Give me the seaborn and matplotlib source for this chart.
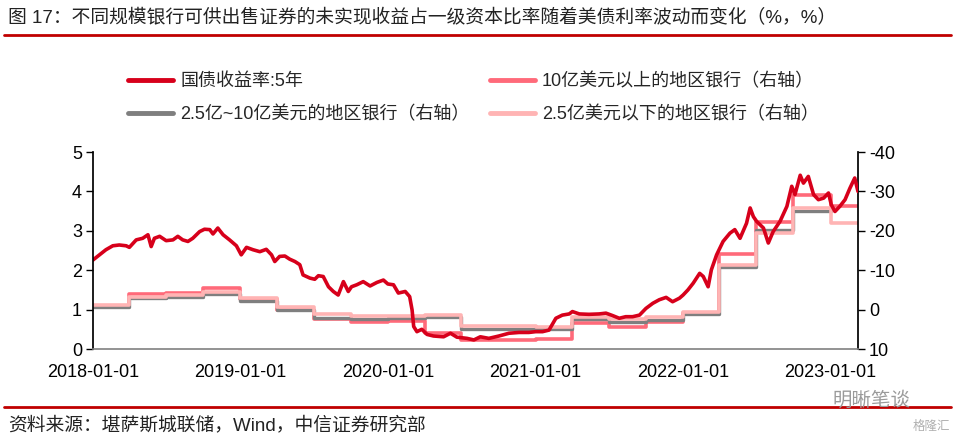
import pandas as pd
import numpy as np
import seaborn as sns
import matplotlib.pyplot as plt
import matplotlib.dates as mdates

sns.set_theme(style="white")
plt.rcParams['font.family'] = ['Liberation Sans', 'Noto Sans CJK SC']
plt.rcParams['axes.unicode_minus'] = False

# 国债收益率:5年 (左轴)
ust_dates = [
    "2018-01-01", "2018-01-17", "2018-02-02", "2018-02-19", "2018-03-07", "2018-03-24",
    "2018-04-01", "2018-04-18", "2018-05-04", "2018-05-17", "2018-05-25", "2018-06-02",
    "2018-06-15", "2018-07-01", "2018-07-18", "2018-07-30", "2018-08-11", "2018-08-24",
    "2018-09-05", "2018-09-22", "2018-10-04", "2018-10-17", "2018-10-25", "2018-11-06",
    "2018-11-19", "2018-12-05", "2018-12-22", "2019-01-03", "2019-01-16", "2019-02-01",
    "2019-02-18", "2019-03-06", "2019-03-19", "2019-03-27", "2019-04-08", "2019-04-21",
    "2019-05-03", "2019-05-16", "2019-05-28", "2019-06-05", "2019-06-22", "2019-07-04",
    "2019-07-13", "2019-07-25", "2019-08-07", "2019-08-19", "2019-08-31", "2019-09-13",
    "2019-09-25", "2019-10-03", "2019-10-16", "2019-11-01", "2019-11-18", "2019-12-05",
    "2019-12-21", "2020-01-01", "2020-01-15", "2020-01-27", "2020-02-13", "2020-02-24",
    "2020-03-01", "2020-03-05", "2020-03-13", "2020-03-25", "2020-04-07", "2020-04-23",
    "2020-05-18", "2020-06-04", "2020-06-20", "2020-07-15", "2020-08-01", "2020-08-17",
    "2020-09-07", "2020-10-02", "2020-10-27", "2020-11-21", "2020-12-15", "2021-01-01",
    "2021-01-18", "2021-02-03", "2021-02-20", "2021-03-08", "2021-03-25", "2021-04-02",
    "2021-04-19", "2021-05-13", "2021-06-07", "2021-06-24", "2021-07-10", "2021-07-27",
    "2021-08-12", "2021-08-29", "2021-09-15", "2021-10-01", "2021-10-18", "2021-11-03",
    "2021-11-20", "2021-12-06", "2021-12-23", "2022-01-01", "2022-01-13", "2022-01-26",
    "2022-02-11", "2022-02-20", "2022-03-04", "2022-03-12", "2022-03-25", "2022-04-10",
    "2022-04-27", "2022-05-09", "2022-05-22", "2022-06-07", "2022-06-16", "2022-06-24",
    "2022-07-02", "2022-07-19", "2022-07-31", "2022-08-12", "2022-08-29", "2022-09-15",
    "2022-09-27", "2022-10-05", "2022-10-18", "2022-10-26", "2022-11-07", "2022-11-20",
    "2022-12-02", "2022-12-15", "2022-12-27", "2023-01-03", "2023-01-12", "2023-01-24",
    "2023-02-06", "2023-02-18", "2023-03-02", "2023-03-10",
]
ust_vals = [
    2.26, 2.39, 2.52, 2.62, 2.64, 2.62,
    2.58, 2.77, 2.81, 2.90, 2.60, 2.81,
    2.86, 2.75, 2.77, 2.86, 2.77, 2.73,
    2.81, 2.98, 3.04, 3.03, 2.92, 3.07,
    2.90, 2.77, 2.62, 2.39, 2.58, 2.52,
    2.47, 2.53, 2.39, 2.22, 2.35, 2.36,
    2.28, 2.22, 2.14, 1.88, 1.80, 1.77,
    1.86, 1.84, 1.58, 1.46, 1.37, 1.71,
    1.46, 1.58, 1.63, 1.71, 1.60, 1.69,
    1.75, 1.65, 1.63, 1.42, 1.46, 1.33,
    0.99, 0.57, 0.44, 0.50, 0.37, 0.33,
    0.31, 0.40, 0.30, 0.27, 0.23, 0.31,
    0.27, 0.33, 0.40, 0.42, 0.42, 0.44,
    0.44, 0.48, 0.78, 0.86, 0.89, 0.95,
    0.89, 0.88, 0.89, 0.91, 0.85, 0.78,
    0.82, 0.82, 0.86, 1.03, 1.16, 1.25,
    1.31, 1.20, 1.29, 1.37, 1.50, 1.67,
    1.92, 1.84, 1.58, 2.01, 2.39, 2.73,
    2.94, 3.03, 2.81, 3.19, 3.58, 3.36,
    3.24, 3.07, 2.69, 2.98, 3.24, 3.62,
    4.13, 3.92, 4.41, 4.21, 4.38, 3.92,
    3.79, 3.83, 3.96, 3.66, 3.49, 3.62,
    3.79, 4.08, 4.34, 4.00,
]

# 季度数据 (右轴)
quarters = [
    "2018-01-01", "2018-04-01", "2018-07-01", "2018-10-01",
    "2019-01-01", "2019-04-01", "2019-07-01", "2019-10-01",
    "2020-01-01", "2020-04-01", "2020-07-01", "2020-10-01",
    "2021-01-01", "2021-04-01", "2021-07-01", "2021-10-01",
    "2022-01-01", "2022-04-01", "2022-07-01", "2022-10-01",
    "2023-01-01",
]
end_date = "2023-03-10"
big_banks = [-1.0, -3.9, -4.3, -5.4, -2.7, 0.0, 2.5, 3.2, 2.8, 5.9, 7.6, 7.6,
             7.5, 3.3, 4.5, 3.1, 0.8, -14.1, -22.2, -29.1, -26.4]
mid_banks = [-0.6, -2.9, -3.1, -4.0, -2.3, 0.0, 2.1, 2.4, 2.2, 1.8, 4.8, 4.8,
             5.0, 2.4, 3.1, 2.7, 1.1, -10.9, -20.1, -25.1]
small_banks = [-1.2, -3.3, -3.7, -4.5, -2.9, -0.7, 1.2, 1.5, 1.6, 1.4, 4.2, 4.2,
               4.5, 2.0, 2.4, 1.8, 0.5, -11.3, -19.4, -25.8, -22.0]

labels = ["国债收益率:5年", "10亿美元以上的地区银行（右轴）",
          "2.5亿~10亿美元的地区银行（右轴）", "2.5亿美元以下的地区银行（右轴）"]
colors = ["#D7001B", "#FF6A7A", "#7F7F7F", "#FFB4B4"]

df_ust = pd.DataFrame({"date": pd.to_datetime(ust_dates), "val": ust_vals})


def step_frame(vals, last):
    # 最后一个值延续到截止日
    d = quarters[:len(vals)] + [last]
    v = list(vals) + [vals[-1]]
    return pd.DataFrame({"date": pd.to_datetime(d), "val": v})


df_big = step_frame(big_banks, end_date)
df_mid = step_frame(mid_banks, "2023-01-01")
df_small = step_frame(small_banks, end_date)

fig = plt.figure(figsize=(9.55, 4.42), dpi=100)
ax = fig.add_axes([0.0974, 0.2104, 0.8010, 0.4457])
ax2 = ax.twinx()

sns.lineplot(data=df_big, x="date", y="val", ax=ax2, color=colors[1], lw=2.6,
             drawstyle="steps-post", estimator=None, label=labels[1], legend=False)
sns.lineplot(data=df_mid, x="date", y="val", ax=ax2, color=colors[2], lw=2.4,
             drawstyle="steps-post", estimator=None, label=labels[2], legend=False)
sns.lineplot(data=df_small, x="date", y="val", ax=ax2, color=colors[3], lw=2.6,
             drawstyle="steps-post", estimator=None, label=labels[3], legend=False)

ax.set_zorder(ax2.get_zorder() + 1)
ax.patch.set_visible(False)
sns.lineplot(data=df_ust, x="date", y="val", ax=ax, color=colors[0], lw=2.6,
             estimator=None, label=labels[0], legend=False)

ax.set_xlim(pd.Timestamp("2018-01-01"), pd.Timestamp(end_date))
ax.set_ylim(0, 5)
ax.set_yticks([0, 1, 2, 3, 4, 5])
ax2.set_ylim(10, -40)
ax2.set_yticks([10, 0, -10, -20, -30, -40])

years = pd.to_datetime(["2018-01-01", "2019-01-01", "2020-01-01",
                        "2021-01-01", "2022-01-01", "2023-01-01"])
ax.set_xticks(years)
ax.xaxis.set_major_formatter(mdates.DateFormatter("%Y-%m-%d"))
ax.set_xlabel("")
ax.set_ylabel("")
ax2.set_ylabel("")

for a in (ax, ax2):
    a.tick_params(axis="both", labelsize=13, length=5, width=1, colors="black",
                  direction="out", pad=3)
    a.spines["top"].set_visible(False)
    a.grid(False)
ax.tick_params(axis="x", color="#808080", pad=6)
ax.tick_params(axis="y", left=True)
ax2.tick_params(axis="y", right=True)
ax.spines["left"].set_color("black")
ax.spines["right"].set_visible(False)
ax.spines["bottom"].set_color("#808080")
ax.spines["bottom"].set_linewidth(1.2)
ax2.spines["left"].set_visible(False)
ax2.spines["bottom"].set_visible(False)
ax2.spines["right"].set_color("black")

# 图例
h_main = ax.get_lines()[0]
h_r = ax2.get_lines()
handles = [h_main, h_r[1], h_r[0], h_r[2]]
leg_labels = [labels[0], labels[2], labels[1], labels[3]]
fig.legend(handles, leg_labels, ncol=2, frameon=False, fontsize=13,
           loc="upper left", bbox_to_anchor=(0.117, 0.872),
           handlelength=2.5, handletextpad=0.4, columnspacing=1.1,
           labelspacing=0.9)
for line in fig.legends[0].get_lines():
    line.set_linewidth(3.5)

# 标题与来源
fig.text(0.008, 0.96, "图 17：不同规模银行可供出售证券的未实现收益占一级资本比率随着美债利率波动而变化（%，%）",
         fontsize=13.5, ha="left", va="center", color="#222222")
fig.add_artist(plt.Line2D([0.004, 0.996], [0.920, 0.920], color="#C00000", lw=2))
fig.add_artist(plt.Line2D([0.004, 0.996], [0.079, 0.079], color="#C00000", lw=2))
fig.text(0.008, 0.038, "资料来源：堪萨斯城联储，Wind，中信证券研究部",
         fontsize=13.5, ha="left", va="center", color="#222222")
fig.text(0.872, 0.093, "明晰笔谈", fontsize=14, ha="left", va="center", color="#9A9A9A")
fig.text(0.975, 0.035, "格隆汇", fontsize=9, ha="center", va="center", color="#B0B0B0")

plt.savefig("out.png", dpi=100)
